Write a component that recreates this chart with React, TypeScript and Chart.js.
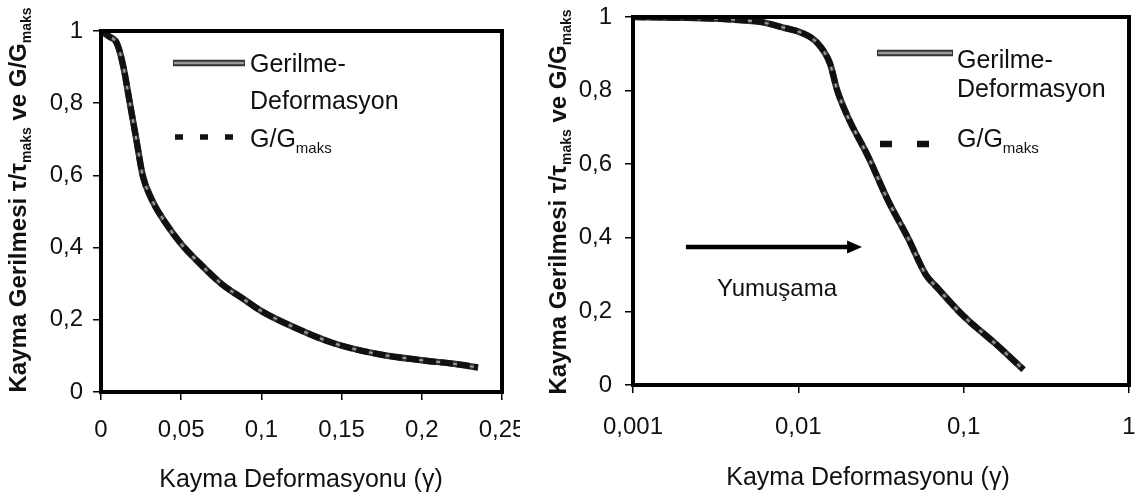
import React, { useEffect, useRef } from 'react';
import { Chart, registerables } from 'chart.js';

Chart.register(...registerables);

const FONT = "'Liberation Sans', Arial, Helvetica, sans-serif";
const INK = '#111111';

// ---------- data ----------
const leftGamma = [0, 0.005, 0.01, 0.014, 0.018, 0.022, 0.026, 0.032, 0.04, 0.05, 0.06, 0.075, 0.09, 0.1, 0.12, 0.145, 0.175, 0.2, 0.22, 0.235];
const leftGerilme = [1, 0.985, 0.965, 0.9, 0.8, 0.7, 0.6, 0.53, 0.47, 0.41, 0.363, 0.3, 0.254, 0.224, 0.18, 0.135, 0.103, 0.088, 0.078, 0.068];
const leftGGmaks = [1, 0.985, 0.965, 0.9, 0.8, 0.7, 0.6, 0.53, 0.47, 0.41, 0.363, 0.3, 0.254, 0.224, 0.18, 0.135, 0.103, 0.088, 0.078, 0.068];

const rightGamma = [0.001, 0.002, 0.004, 0.006, 0.008, 0.0106, 0.013, 0.0155, 0.0172, 0.02, 0.0265, 0.035, 0.046, 0.059, 0.07, 0.1, 0.155, 0.23];
const rightGerilme = [1.0, 0.998, 0.993, 0.986, 0.972, 0.956, 0.93, 0.875, 0.8, 0.727, 0.62, 0.5, 0.4, 0.3, 0.262, 0.187, 0.113, 0.042];
const rightGGmaks = [1.0, 0.998, 0.993, 0.986, 0.972, 0.956, 0.93, 0.875, 0.8, 0.727, 0.62, 0.5, 0.4, 0.3, 0.262, 0.187, 0.113, 0.042];

const leftXTicks = [0, 0.05, 0.1, 0.15, 0.2, 0.25];
const leftXTickLabels = ['0', '0,05', '0,1', '0,15', '0,2', '0,25'];
const rightXTicks = [0.001, 0.01, 0.1, 1];
const rightXTickLabels = ['0,001', '0,01', '0,1', '1'];
const yTicks = [0, 0.2, 0.4, 0.6, 0.8, 1];
const yTickLabels = ['0', '0,2', '0,4', '0,6', '0,8', '1'];

const xTitleText = 'Kayma Deformasyonu (γ)';
type Part = { t: string; sub?: boolean };
const yTitleParts: Part[] = [
  { t: 'Kayma Gerilmesi τ/τ' },
  { t: 'maks', sub: true },
  { t: ' ve G/G' },
  { t: 'maks', sub: true },
];
const legendStressLines = ['Gerilme-', 'Deformasyon'];
const legendGParts: Part[] = [{ t: 'G/G' }, { t: 'maks', sub: true }];
const annotationText = 'Yumuşama';
// arrow annotation (data coordinates on the right chart)
const arrowFrom = { x: 0.00209, y: 0.375 };
const arrowTo = { x: 0.0243, y: 0.375 };
const annotationPos = { x: 0.00743, y: 0.242 };

// ---------- helpers ----------
function fontStr(size: number, bold: boolean) {
  return `${bold ? 'bold ' : ''}${size}px ${FONT}`;
}
function richWidth(ctx: CanvasRenderingContext2D, parts: Part[], size: number, bold: boolean) {
  let w = 0;
  for (const p of parts) {
    ctx.font = fontStr(p.sub ? Math.round(size * 0.6) : size, bold);
    w += ctx.measureText(p.t).width;
  }
  return w;
}
function drawRich(
  ctx: CanvasRenderingContext2D,
  parts: Part[],
  x: number,
  baseline: number,
  size: number,
  bold: boolean,
  align: 'left' | 'center'
) {
  const total = richWidth(ctx, parts, size, bold);
  let cx = align === 'center' ? x - total / 2 : x;
  ctx.textAlign = 'left';
  ctx.textBaseline = 'alphabetic';
  ctx.fillStyle = INK;
  for (const p of parts) {
    const s = p.sub ? Math.round(size * 0.6) : size;
    ctx.font = fontStr(s, bold);
    ctx.fillText(p.t, cx, p.sub ? baseline + size * 0.22 : baseline);
    cx += ctx.measureText(p.t).width;
  }
}

interface Deco {
  yTitle: { x: number; y: number };
  xTitle: { x: number; y: number };
  legend: {
    lineX0: number;
    lineX1: number;
    lineY: number;
    dashes: number[][];
    dashY: number;
    dashH: number;
    textX: number;
    b1: number;
    b2: number;
    b3: number;
  };
  arrow?: boolean;
}

function decoPlugin(deco: Deco) {
  return {
    id: 'deco',
    afterDatasetsDraw(chart: any) {
      const ctx: CanvasRenderingContext2D = chart.ctx;
      const a = chart.chartArea;
      ctx.save();
      // plot frame
      ctx.strokeStyle = '#000';
      ctx.lineWidth = 4;
      ctx.strokeRect(a.left, a.top, a.right - a.left, a.bottom - a.top);

      // y title (rotated, with subscripts)
      ctx.save();
      ctx.translate(deco.yTitle.x, deco.yTitle.y);
      ctx.rotate(-Math.PI / 2);
      drawRich(ctx, yTitleParts, 0, 0, 24, true, 'center');
      ctx.restore();

      // x title
      drawRich(ctx, [{ t: xTitleText }], deco.xTitle.x, deco.xTitle.y, 25, false, 'center');

      // legend
      const L = deco.legend;
      ctx.lineCap = 'butt';
      ctx.strokeStyle = '#333';
      ctx.lineWidth = 6.5;
      ctx.beginPath();
      ctx.moveTo(L.lineX0, L.lineY);
      ctx.lineTo(L.lineX1, L.lineY);
      ctx.stroke();
      ctx.strokeStyle = '#9a9a9a';
      ctx.lineWidth = 2.5;
      ctx.beginPath();
      ctx.moveTo(L.lineX0 + 1, L.lineY);
      ctx.lineTo(L.lineX1 - 1, L.lineY);
      ctx.stroke();
      ctx.fillStyle = '#111';
      for (const d of L.dashes) {
        ctx.fillRect(d[0], L.dashY - L.dashH / 2, d[1] - d[0], L.dashH);
      }
      drawRich(ctx, [{ t: legendStressLines[0] }], L.textX, L.b1, 25, false, 'left');
      drawRich(ctx, [{ t: legendStressLines[1] }], L.textX, L.b2, 25, false, 'left');
      drawRich(ctx, legendGParts, L.textX, L.b3, 25, false, 'left');

      // arrow annotation
      if (deco.arrow) {
        const xs = chart.scales.x;
        const ys = chart.scales.y;
        const x0 = xs.getPixelForValue(arrowFrom.x);
        const x1 = xs.getPixelForValue(arrowTo.x);
        const y0 = ys.getPixelForValue(arrowFrom.y);
        ctx.strokeStyle = '#000';
        ctx.lineWidth = 4.5;
        ctx.beginPath();
        ctx.moveTo(x0, y0);
        ctx.lineTo(x1 - 12, y0);
        ctx.stroke();
        ctx.fillStyle = '#000';
        ctx.beginPath();
        ctx.moveTo(x1, y0);
        ctx.lineTo(x1 - 15, y0 - 6.5);
        ctx.lineTo(x1 - 15, y0 + 6.5);
        ctx.closePath();
        ctx.fill();
        const tx = xs.getPixelForValue(annotationPos.x);
        const ty = ys.getPixelForValue(annotationPos.y);
        drawRich(ctx, [{ t: annotationText }], tx, ty, 24, false, 'center');
      }
      ctx.restore();
    },
  };
}

function pts(xs: number[], ys: number[]) {
  return xs.map((x, i) => ({ x, y: ys[i] }));
}

interface Cfg {
  gamma: number[];
  gerilme: number[];
  ggmaks: number[];
  xType: 'linear' | 'logarithmic';
  xMin: number;
  xMax: number;
  xTicks: number[];
  xLabels: string[];
  pad: { left: number; right: number; top: number; bottom: number };
  yWidth: number;
  xHeight: number;
  yTickPad: number;
  xTickPad: number;
  deco: Deco;
}

function buildChart(canvas: HTMLCanvasElement, c: Cfg) {
  const tickFont = { family: FONT, size: 24 };
  const common = {
    pointRadius: 0,
    fill: false,
    cubicInterpolationMode: 'monotone' as const,
    borderCapStyle: 'butt' as const,
  };
  return new Chart(canvas, {
    type: 'line',
    data: {
      datasets: [
        { label: 'G/Gmaks', data: pts(c.gamma, c.ggmaks), borderColor: '#111', borderWidth: 6, borderDash: [13, 4], order: 1, ...common },
        { label: 'Gerilme-Deformasyon (iç)', data: pts(c.gamma, c.gerilme), borderColor: '#9a9a9a', borderWidth: 2, order: 2, ...common },
        { label: 'Gerilme-Deformasyon', data: pts(c.gamma, c.gerilme), borderColor: '#333', borderWidth: 6.5, order: 3, ...common },
      ],
    },
    options: {
      responsive: false,
      animation: false,
      events: [],
      layout: { padding: c.pad },
      plugins: { legend: { display: false }, tooltip: { enabled: false }, title: { display: false } },
      scales: {
        x: {
          type: c.xType,
          min: c.xMin,
          max: c.xMax,
          afterBuildTicks: (s: any) => {
            s.ticks = c.xTicks.map((v) => ({ value: v }));
          },
          afterFit: (s: any) => {
            s.height = c.xHeight;
            s.paddingLeft = 0;
            s.paddingRight = 0;
            s.paddingTop = 0;
            s.paddingBottom = 0;
          },
          ticks: {
            autoSkip: false,
            maxRotation: 0,
            minRotation: 0,
            padding: c.xTickPad,
            color: INK,
            font: tickFont,
            callback: (_v: any, i: number) => c.xLabels[i],
          },
          grid: { drawOnChartArea: false, drawTicks: true, tickLength: 8, color: '#000', lineWidth: 1.5 },
          border: { display: false },
        },
        y: {
          type: 'linear',
          min: 0,
          max: 1,
          afterBuildTicks: (s: any) => {
            s.ticks = yTicks.map((v) => ({ value: v }));
          },
          afterFit: (s: any) => {
            s.width = c.yWidth;
            s.paddingLeft = 0;
            s.paddingRight = 0;
            s.paddingTop = 0;
            s.paddingBottom = 0;
          },
          ticks: {
            autoSkip: false,
            padding: c.yTickPad,
            color: INK,
            font: tickFont,
            callback: (_v: any, i: number) => yTickLabels[i],
          },
          grid: { drawOnChartArea: false, drawTicks: true, tickLength: 8, color: '#000', lineWidth: 1.5 },
          border: { display: false },
        },
      },
    } as any,
    plugins: [decoPlugin(c.deco)],
  });
}

export default function App() {
  const leftRef = useRef<HTMLCanvasElement>(null);
  const rightRef = useRef<HTMLCanvasElement>(null);

  useEffect(() => {
    const left = buildChart(leftRef.current!, {
      gamma: leftGamma,
      gerilme: leftGerilme,
      ggmaks: leftGGmaks,
      xType: 'linear',
      xMin: 0,
      xMax: 0.25,
      xTicks: leftXTicks,
      xLabels: leftXTickLabels,
      pad: { left: 0, right: 38, top: 31, bottom: 0 },
      yWidth: 101,
      xHeight: 109,
      yTickPad: 10,
      xTickPad: 16,
      deco: {
        yTitle: { x: 26, y: 200 },
        xTitle: { x: 301, y: 487 },
        legend: {
          lineX0: 173,
          lineX1: 245,
          lineY: 63,
          dashes: [
            [175, 183],
            [200, 208],
            [225, 233],
          ],
          dashY: 137,
          dashH: 5.5,
          textX: 250,
          b1: 72,
          b2: 109,
          b3: 147,
        },
      },
    });
    const right = buildChart(rightRef.current!, {
      gamma: rightGamma,
      gerilme: rightGerilme,
      ggmaks: rightGGmaks,
      xType: 'logarithmic',
      xMin: 0.001,
      xMax: 1,
      xTicks: rightXTicks,
      xLabels: rightXTickLabels,
      pad: { left: 0, right: 15, top: 17, bottom: 0 },
      yWidth: 93,
      xHeight: 116,
      yTickPad: 13,
      xTickPad: 20,
      deco: {
        yTitle: { x: 26, y: 202 },
        xTitle: { x: 328, y: 485 },
        legend: {
          lineX0: 337,
          lineX1: 413,
          lineY: 53,
          dashes: [
            [340, 352],
            [377, 389],
          ],
          dashY: 144,
          dashH: 6.5,
          textX: 417,
          b1: 68,
          b2: 97,
          b3: 147,
        },
        arrow: true,
      },
    });
    return () => {
      left.destroy();
      right.destroy();
    };
  }, []);

  return (
    <div style={{ position: 'fixed', left: 0, top: 0, width: 1144, height: 501, background: '#fff', overflow: 'hidden' }}>
      <div style={{ position: 'absolute', left: 0, top: 0, width: 520, height: 501, overflow: 'hidden' }}>
        <canvas ref={leftRef} width={540} height={501} style={{ width: 540, height: 501, display: 'block' }} />
      </div>
      <div style={{ position: 'absolute', left: 540, top: 0, width: 604, height: 501, overflow: 'hidden' }}>
        <canvas ref={rightRef} width={604} height={501} style={{ width: 604, height: 501, display: 'block' }} />
      </div>
    </div>
  );
}
